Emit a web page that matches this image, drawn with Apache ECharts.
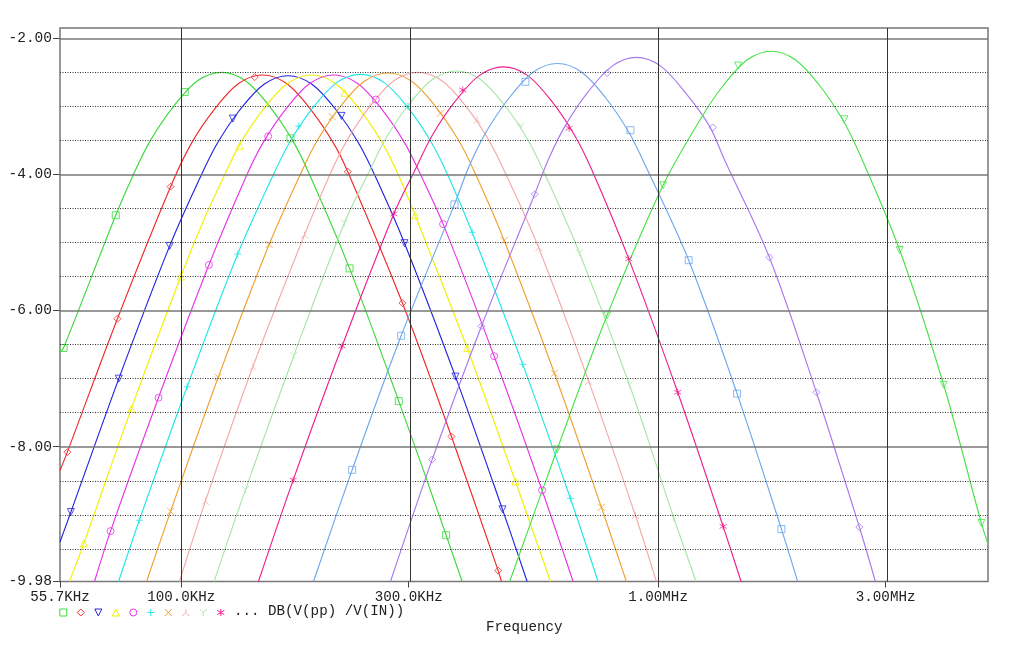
<!DOCTYPE html>
<html><head><meta charset="utf-8">
<script src="https://cdn.jsdelivr.net/npm/echarts@6/dist/echarts.min.js"></script>
<style>html,body{margin:0;padding:0;background:#fff}#c{width:1024px;height:668px}</style>
</head><body><div id="c"></div>
<script>
// ---- axis / tick data ----
const tickFreqs = [55.7, 100, 300, 1000, 3000];          // kHz
const tickLabels = ['55.7KHz', '100.0KHz', '300.0KHz', '1.00MHz', '3.00MHz'];
const gridFreqs = [100, 300, 1000, 3000];                // kHz
const yTicks = [-2, -4, -6, -8, -9.98];
const majorDb = [-2, -4, -6, -8];
const minorDb = [-2.5, -3, -3.5, -4.5, -5, -5.5, -6.5, -7, -7.5, -8.5, -9, -9.5];
const fMin = 55.7, fMax = 4918, dbMin = -9.98, dbMax = -1.849;
const traceLabel = '... DB(V(pp) /V(IN))';
const xTitle = 'Frequency';

// ---- trace curves: [frequency kHz, dB] ----
const c01 = [[55.7,-6.61],[56.65,-6.55],[72.9,-4.60],[79.4,-4.00],[86.2,-3.50],[96.4,-3.00],[108.2,-2.625],[121.5,-2.50],[136.4,-2.625],[153.2,-3.00],[171.2,-3.50],[185.8,-4.00],[225.4,-5.38],[285.9,-7.33],[359.4,-9.30],[388.2,-9.98]];
const c02 = [[55.7,-8.35],[57.7,-8.08],[73.5,-6.12],[95.0,-4.18],[105.1,-3.54],[117.5,-3.04],[131.9,-2.665],[148.1,-2.54],[166.3,-2.665],[186.6,-3.04],[208.6,-3.54],[223.5,-3.96],[291.0,-5.89],[368.7,-7.85],[462.0,-9.82],[469.4,-9.98]];
const c03 = [[55.7,-9.40],[58.7,-8.96],[74.0,-7.00],[94.6,-5.05],[109.5,-4.05],[118.9,-3.55],[132.8,-3.05],[149.2,-2.675],[167.5,-2.55],[188.0,-2.675],[211.1,-3.05],[235.9,-3.55],[256.1,-4.05],[293.9,-5.01],[375.9,-6.97],[471.7,-8.92],[531.4,-9.98]];
const c04 = [[58.3,-9.98],[62.5,-9.42],[78.6,-7.44],[99.8,-5.50],[111.5,-4.67],[122.7,-4.04],[133.1,-3.54],[148.8,-3.04],[167.1,-2.665],[187.6,-2.54],[210.6,-2.665],[236.5,-3.04],[264.2,-3.54],[286.8,-4.04],[309.4,-4.60],[397.7,-6.55],[502.2,-8.51],[594.6,-9.98]];
const c05 = [[65.8,-9.98],[71.1,-9.24],[89.6,-7.28],[114.3,-5.33],[136.6,-4.04],[148.3,-3.54],[165.7,-3.04],[186.0,-2.665],[208.9,-2.54],[234.5,-2.665],[263.3,-3.04],[294.3,-3.54],[319.5,-4.04],[354.2,-4.73],[453.1,-6.67],[571.1,-8.64],[663.4,-9.98]];
const c06 = [[73.9,-9.98],[81.7,-9.08],[102.9,-7.12],[131.4,-5.17],[155.4,-4.03],[168.7,-3.53],[188.4,-3.03],[211.6,-2.655],[237.6,-2.53],[266.9,-2.655],[299.6,-3.03],[334.7,-3.53],[363.4,-4.03],[407.5,-4.85],[520.2,-6.79],[654.9,-8.76],[748.4,-9.98]];
const c07 = [[84.6,-9.98],[95.0,-8.95],[119.6,-6.98],[152.9,-5.03],[177.5,-4.01],[192.6,-3.51],[215.2,-3.01],[241.6,-2.635],[271.3,-2.51],[304.7,-2.635],[342.2,-3.01],[382.4,-3.51],[415.0,-4.01],[475.5,-4.97],[606.2,-6.92],[760.5,-8.89],[857.9,-9.98]];
const c08 = [[99.2,-9.98],[112.4,-8.80],[141.3,-6.83],[181.3,-4.89],[205.1,-4.00],[222.7,-3.50],[248.8,-3.00],[279.3,-2.625],[313.7,-2.50],[352.2,-2.625],[395.5,-3.00],[441.9,-3.50],[479.7,-4.00],[562.0,-5.08],[715.3,-7.04],[896.3,-9.01],[991.7,-9.98]];
const c09 = [[117.2,-9.98],[136.4,-8.63],[172.3,-6.66],[220.0,-4.71],[247.0,-3.98],[268.1,-3.48],[299.6,-2.98],[336.4,-2.605],[377.7,-2.48],[424.1,-2.605],[476.2,-2.98],[532.1,-3.48],[577.6,-3.98],[683.9,-5.15],[870.8,-7.09],[1078.2,-9.04],[1201.5,-9.98]];
const c10 = [[145.2,-9.98],[171.7,-8.49],[217.5,-6.52],[279.1,-4.58],[310.0,-3.92],[336.4,-3.42],[375.9,-2.92],[422.1,-2.545],[474.0,-2.42],[532.1,-2.545],[597.5,-2.92],[667.6,-3.42],[724.8,-3.92],[868.0,-5.24],[1099.3,-7.20],[1368.9,-9.17],[1492.8,-9.98]];
const c11 = [[189.4,-9.98],[228.3,-8.34],[289.2,-6.37],[374.1,-4.44],[402.2,-3.87],[436.5,-3.37],[487.9,-2.87],[547.8,-2.495],[615.0,-2.37],[690.6,-2.495],[775.3,-2.87],[866.6,-3.37],[940.6,-3.87],[1159.1,-5.26],[1464.3,-7.22],[1813.8,-9.21],[1962.0,-9.98]];
const c12 = [[274.7,-9.98],[335.9,-8.19],[426.2,-6.23],[551.2,-4.29],[588.8,-3.78],[639.4,-3.28],[714.3,-2.78],[802.2,-2.405],[900.5,-2.28],[1011.1,-2.405],[1135.2,-2.78],[1278.9,-3.28],[1377.2,-3.78],[1711.9,-5.22],[2147.4,-7.20],[2642.4,-9.18],[2855.0,-9.98]];
const c13 = [[488.5,-9.98],[614.2,-8.04],[782.0,-6.07],[1024.4,-4.16],[1226.5,-3.19],[1370.8,-2.69],[1538.9,-2.315],[1728.4,-2.19],[1940.0,-2.315],[2178.5,-2.69],[2434.5,-3.19],[2642.4,-3.69],[3210.2,-5.11],[3970.0,-7.09],[4762.1,-9.12],[4918.0,-9.43]];

// ---- marker symbol positions: [frequency kHz, dB] ----
const k01 = [[56.65,-6.55],[72.9,-4.60],[101.7,-2.79],[169.5,-3.47],[225.4,-5.38],[285.9,-7.33],[359.4,-9.30]];
const k02 = [[57.7,-8.08],[73.5,-6.12],[95.0,-4.18],[142.6,-2.57],[223.5,-3.96],[291.0,-5.89],[368.7,-7.85],[462.0,-9.82]];
const k03 = [[58.7,-8.96],[74.0,-7.00],[94.6,-5.05],[128.3,-3.18],[216.8,-3.14],[293.9,-5.01],[375.9,-6.97],[471.7,-8.92]];
const k04 = [[62.5,-9.42],[78.6,-7.44],[99.8,-5.50],[132.7,-3.58],[220.0,-2.80],[309.4,-4.60],[397.7,-6.55],[502.2,-8.51]];
const k05 = [[71.1,-9.24],[89.6,-7.28],[114.3,-5.33],[152.2,-3.44],[255.9,-2.90],[354.2,-4.73],[453.1,-6.67],[571.1,-8.64]];
const k06 = [[81.7,-9.08],[102.9,-7.12],[131.4,-5.17],[176.4,-3.29],[298.7,-3.00],[407.5,-4.85],[520.2,-6.79],[654.9,-8.76]];
const k07 = [[95.0,-8.95],[119.6,-6.98],[152.9,-5.03],[207.3,-3.15],[349.6,-3.10],[475.5,-4.97],[606.2,-6.92],[760.5,-8.89]];
const k08 = [[112.4,-8.80],[141.3,-6.83],[181.3,-4.89],[248.8,-3.00],[417.3,-3.20],[562.0,-5.08],[715.3,-7.04],[896.3,-9.01]];
const k09 = [[136.4,-8.63],[172.3,-6.66],[220.0,-4.71],[303.6,-2.91],[516.3,-3.29],[683.9,-5.15],[870.8,-7.09],[1078.2,-9.04]];
const k10 = [[171.7,-8.49],[217.5,-6.52],[279.1,-4.58],[389.4,-2.76],[650.9,-3.32],[868.0,-5.24],[1099.3,-7.20],[1368.9,-9.17]];
const k11 = [[228.3,-8.34],[289.2,-6.37],[374.1,-4.44],[527.1,-2.64],[875.0,-3.35],[1159.1,-5.26],[1464.3,-7.22],[1813.8,-9.21]];
const k12 = [[335.9,-8.19],[426.2,-6.23],[551.2,-4.29],[782.0,-2.51],[1301.6,-3.31],[1711.9,-5.22],[2147.4,-7.20],[2642.4,-9.18]];
const k13 = [[614.2,-8.04],[782.0,-6.07],[1024.4,-4.16],[1471.4,-2.40],[2458.3,-3.19],[3210.2,-5.11],[3970.0,-7.09],[4762.1,-9.12]];

// ---- marker shapes (polylines in a 10x10 box) ----
const SYM = {
  square:  {closed: true,  lines: [[[0,0],[10,0],[10,10],[0,10]]]},
  diamond: {closed: true,  lines: [[[5,0],[10,5],[5,10],[0,5]]]},
  triDown: {closed: true,  lines: [[[0,0],[10,0],[5,10]]]},
  triUp:   {closed: true,  lines: [[[5,0],[10,10],[0,10]]]},
  circle:  {circle: true},
  plus:    {closed: false, lines: [[[5,0],[5,10]],[[0,5],[10,5]]]},
  cross:   {closed: false, lines: [[[0,0],[10,10]],[[10,0],[0,10]]]},
  lambda:  {closed: false, lines: [[[5,0],[5,5]],[[0,10],[5,5],[10,10]]]},
  yee:     {closed: false, lines: [[[0,0],[5,5],[10,0]],[[5,5],[5,10]]]},
  star:    {closed: false, lines: [[[5,0],[5,10]],[[0,2],[10,8]],[[0,8],[10,2]]]}
};
function symPath(s) {
  if (s.circle) return 'path://M0,5 A5,5 0 1,1 10,5 A5,5 0 1,1 0,5 Z';
  return 'path://' + s.lines.map(l => 'M' + l.map(p => p[0] + ',' + p[1]).join(' L') + (s.closed ? ' Z' : '')).join(' ');
}
function symGraphic(s, cx, cy, size, color) {
  const k = size / 10, ox = cx - size / 2, oy = cy - size / 2;
  const st = {fill: 'none', stroke: color, lineWidth: 1};
  if (s.circle) return {type: 'circle', silent: true, shape: {cx: cx, cy: cy, r: size / 2}, style: st};
  return {type: 'group', silent: true, children: s.lines.map(l => ({
    type: s.closed ? 'polygon' : 'polyline', silent: true,
    shape: {points: l.map(p => [ox + p[0] * k, oy + p[1] * k])}, style: st}))};
}

const curves = [c01,c02,c03,c04,c05,c06,c07,c08,c09,c10,c11,c12,c13];
const markers = [k01,k02,k03,k04,k05,k06,k07,k08,k09,k10,k11,k12,k13];
const colors = ['#3cd83c','#f02a2a','#2424e0','#f0f000','#e835e8','#22e6e6','#f0a030','#f4aaaa','#a8e6a8','#f0208c','#6ea8ec','#a878ee','#48e248'];
const syms = ['square','diamond','triDown','triUp','circle','plus','cross','lambda','yee','star','square','diamond','triDown'];
const FONT = 'Liberation Mono';
const L = Math.log10;

const series = [{
  type: 'line', data: [], z: 1, silent: true, symbol: 'none',
  markLine: {
    silent: true, symbol: ['none','none'], label: {show: false}, animation: false,
    data: [
      ...minorDb.map(v => ({yAxis: v, lineStyle: {color: '#333', width: 1, type: [1, 1.5]}})),
      ...majorDb.map(v => ({yAxis: v, lineStyle: {color: '#777', width: 1.5, type: 'solid'}})),
      ...gridFreqs.map(f => ({xAxis: L(f), lineStyle: {color: '#333', width: 1, type: 'solid'}}))
    ]
  }
}];
curves.forEach((pts, i) => {
  series.push({
    type: 'line', z: 2, silent: true, symbol: 'none', smooth: 0.33,
    lineStyle: {color: colors[i], width: 1.15},
    data: pts.map(p => [L(p[0]), p[1]])
  });
  series.push({
    type: 'scatter', z: 3, silent: true, symbol: symPath(SYM[syms[i]]), symbolSize: 7,
    itemStyle: {color: 'rgba(0,0,0,0)', borderColor: colors[i], borderWidth: 1},
    data: markers[i].map(p => [L(p[0]), p[1]])
  });
});

const graphic = [];
for (let i = 0; i < 10; i++) graphic.push(symGraphic(SYM[syms[i]], 63.3 + i * 17.5, 612.5, 7, colors[i]));
graphic.push({type: 'text', left: 234, top: 604, silent: true, style: {text: traceLabel, font: '14.2px "' + FONT + '"', fill: '#222'}});
graphic.push({type: 'text', left: 486, top: 620, silent: true, style: {text: xTitle, font: '14.2px "' + FONT + '"', fill: '#222'}});

const chart = echarts.init(document.getElementById('c'), null, {renderer: 'canvas'});
chart.setOption({
  animation: false,
  backgroundColor: '#fff',
  textStyle: {fontFamily: FONT},
  grid: {left: 60, top: 28, width: 928, height: 553.5, show: true, borderColor: '#777', borderWidth: 1.5, backgroundColor: 'transparent'},
  xAxis: {
    type: 'value', min: L(fMin), max: L(fMax),
    axisLine: {show: false}, splitLine: {show: false},
    axisTick: {show: true, customValues: tickFreqs.map(L), length: 6, inside: false, lineStyle: {color: '#444', width: 1}},
    axisLabel: {show: true, customValues: tickFreqs.map(L), margin: 9, color: '#222', fontFamily: FONT, fontSize: 14.2,
      formatter: v => { let k = 0, b = 1e9; tickFreqs.forEach((f, i) => { const d = Math.abs(L(f) - v); if (d < b) { b = d; k = i; } }); return tickLabels[k]; }}
  },
  yAxis: {
    type: 'value', min: dbMin, max: dbMax,
    axisLine: {show: false}, splitLine: {show: false},
    axisTick: {show: true, customValues: yTicks, length: 7, inside: false, lineStyle: {color: '#444', width: 1}},
    axisLabel: {show: true, customValues: yTicks, margin: 8, color: '#222', fontFamily: FONT, fontSize: 14.5,
      formatter: v => v.toFixed(2)}
  },
  graphic: graphic,
  series: series
});
</script>
</body></html>
